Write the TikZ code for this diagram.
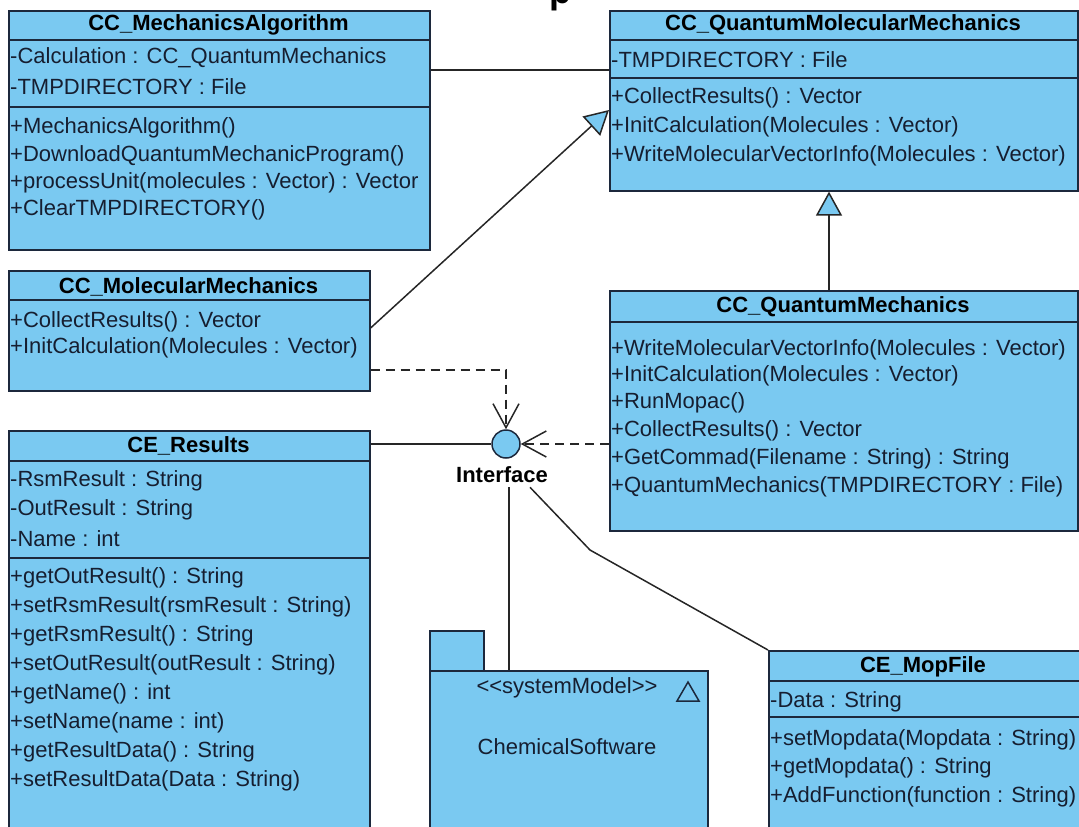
\documentclass[tikz,border=0pt]{standalone}
\usepackage{fontspec}
\setmainfont{Liberation Sans}
\usetikzlibrary{arrows.meta}
\definecolor{classblue}{RGB}{122,201,241}
\definecolor{edge}{RGB}{28,40,60}
\definecolor{ink}{RGB}{22,30,48}
\newcommand{\rowfont}{\fontsize{22}{26}\selectfont}
\begin{document}
\begin{tikzpicture}[x=1pt,y=-1pt,
  classbox/.style={draw=edge, fill=classblue, line width=1.6pt, inner sep=0pt, anchor=north west},
  row/.style={anchor=west, inner sep=0pt, text=ink, font=\rowfont},
  title/.style={anchor=center, inner sep=0pt, text=black, font=\rowfont\bfseries},
  divider/.style={draw=edge, line width=1.6pt},
  assoc/.style={draw=black!85, line width=1.5pt},
  depend/.style={assoc, dash pattern=on 9pt off 6pt, -{Straight Barb[length=24pt,width=26pt]}},
  general/.style={assoc, -{Triangle[length=24pt,width=26pt,fill=classblue]}},
]
\useasboundingbox (0,0) rectangle (1079,827);

% heading, cut off at the top edge
\node[font=\fontsize{36}{40}\selectfont\bfseries, anchor=base, inner sep=0pt] (heading) at (560,4) {p};

% ---------- CC_MechanicsAlgorithm ----------
\node[classbox, minimum width=421pt, minimum height=239pt] (ma) at (8,10) {};
\node[title] (ma-t) at (218.5,25) {CC\_MechanicsAlgorithm};
\draw[divider] (ma.west |- 0,40) -- (ma.east |- 0,40);
\node[row] (ma-a1) at (10,58) {-Calculation : CC\_QuantumMechanics};
\node[row] (ma-a2) at (10,87) {-TMPDIRECTORY : File};
\draw[divider] (ma.west |- 0,107) -- (ma.east |- 0,107);
\node[row] (ma-o1) at (10,128) {+MechanicsAlgorithm()};
\node[row] (ma-o2) at (10,156) {+DownloadQuantumMechanicProgram()};
\node[row] (ma-o3) at (10,183) {+processUnit(molecules : Vector) : Vector};
\node[row] (ma-o4) at (10,210) {+ClearTMPDIRECTORY()};

% ---------- CC_QuantumMolecularMechanics ----------
\node[classbox, minimum width=468pt, minimum height=180pt] (qmm) at (609,10) {};
\node[title] (qmm-t) at (843,25) {CC\_QuantumMolecularMechanics};
\draw[divider] (qmm.west |- 0,40) -- (qmm.east |- 0,40);
\node[row] (qmm-a1) at (611,60) {-TMPDIRECTORY : File};
\draw[divider] (qmm.west |- 0,78) -- (qmm.east |- 0,78);
\node[row] (qmm-o1) at (611,98) {+CollectResults() : Vector};
\node[row] (qmm-o2) at (611,127) {+InitCalculation(Molecules : Vector)};
\node[row] (qmm-o3) at (611,156) {+WriteMolecularVectorInfo(Molecules : Vector)};

% ---------- CC_MolecularMechanics ----------
\node[classbox, minimum width=361pt, minimum height=120pt] (mm) at (8,270) {};
\node[title] (mm-t) at (188.5,287) {CC\_MolecularMechanics};
\draw[divider] (mm.west |- 0,300) -- (mm.east |- 0,300);
\node[row] (mm-o1) at (10,322) {+CollectResults() : Vector};
\node[row] (mm-o2) at (10,348) {+InitCalculation(Molecules : Vector)};

% ---------- CC_QuantumMechanics ----------
\node[classbox, minimum width=468pt, minimum height=240pt] (qm) at (609,290) {};
\node[title] (qm-t) at (843,307) {CC\_QuantumMechanics};
\draw[divider] (qm.west |- 0,322) -- (qm.east |- 0,322);
\node[row] (qm-o1) at (611,350) {+WriteMolecularVectorInfo(Molecules : Vector)};
\node[row] (qm-o2) at (611,376) {+InitCalculation(Molecules : Vector)};
\node[row] (qm-o3) at (611,403) {+RunMopac()};
\node[row] (qm-o4) at (611,431) {+CollectResults() : Vector};
\node[row] (qm-o5) at (611,459) {+GetCommad(Filename : String) : String};
\node[row] (qm-o6) at (611,487) {+QuantumMechanics(TMPDIRECTORY : File)};

% ---------- CE_Results ----------
\node[classbox, minimum width=361pt, minimum height=410pt] (res) at (8,430) {};
\node[title] (res-t) at (188.5,446) {CE\_Results};
\draw[divider] (res.west |- 0,461) -- (res.east |- 0,461);
\node[row] (res-a1) at (10,481) {-RsmResult : String};
\node[row] (res-a2) at (10,510) {-OutResult : String};
\node[row] (res-a3) at (10,539) {-Name : int};
\draw[divider] (res.west |- 0,558) -- (res.east |- 0,558);
\node[row] (res-o1) at (10,578) {+getOutResult() : String};
\node[row] (res-o2) at (10,607) {+setRsmResult(rsmResult : String)};
\node[row] (res-o3) at (10,636) {+getRsmResult() : String};
\node[row] (res-o4) at (10,665) {+setOutResult(outResult : String)};
\node[row] (res-o5) at (10,694) {+getName() : int};
\node[row] (res-o6) at (10,723) {+setName(name : int)};
\node[row] (res-o7) at (10,752) {+getResultData() : String};
\node[row] (res-o8) at (10,781) {+setResultData(Data : String)};

% ---------- CE_MopFile ----------
\node[classbox, minimum width=320pt, minimum height=190pt] (mop) at (768,650) {};
\node[title] (mop-t) at (923,667) {CE\_MopFile};
\draw[divider] (mop.west |- 0,681) -- (1079,681);
\node[row] (mop-a1) at (770,702) {-Data : String};
\draw[divider] (mop.west |- 0,717) -- (1079,717);
\node[row] (mop-o1) at (770,740) {+setMopdata(Mopdata : String)};
\node[row] (mop-o2) at (770,768) {+getMopdata() : String};
\node[row] (mop-o3) at (770,797) {+AddFunction(function : String)};

% ---------- package ChemicalSoftware ----------
\node[classbox, minimum width=54pt, minimum height=40pt] (pkg-tab) at (429,630) {};
\node[classbox, minimum width=278pt, minimum height=180pt] (pkg) at (429,670) {};
\node[row, anchor=center] (pkg-st) at (567,688) {<{}<systemModel>{}>};
\node[row, anchor=center] (pkg-name) at (567,747) {ChemicalSoftware};
\draw[draw=edge, line width=1.5pt, line join=miter] (677,701) -- (699,701) -- (688,682) -- cycle;

% ---------- interface ----------
\node[circle, draw=edge, fill=classblue, line width=1.5pt, minimum size=28pt, inner sep=0pt] (iface) at (506,444) {};
\node[font=\rowfont\bfseries, inner sep=4pt] (iface-l) at (502,475) {Interface};

% ---------- connectors ----------
\draw[assoc] (ma.east |- 0,70) -- (qmm.west |- 0,70);
\draw[general] (mm.east |- 0,328) -- (qmm.west |- 0,110);
\draw[general] (qm.north -| 829,0) -- (qmm.south -| 829,0);
\draw[depend] (mm.east |- 0,370) -| (iface.north);
\draw[depend] (qm.west |- iface) -- (iface.east);
\draw[assoc] (res.east |- iface) -- (iface.west);
\coordinate (pkg-in) at (509,670);
\draw[assoc] (iface-l.south -| pkg-in) -- (pkg-in);
\coordinate (bend) at (590,550);
\draw[assoc] (iface-l.south -| 530,0) -- (bend) -- (mop.north west);
\end{tikzpicture}
\end{document}
